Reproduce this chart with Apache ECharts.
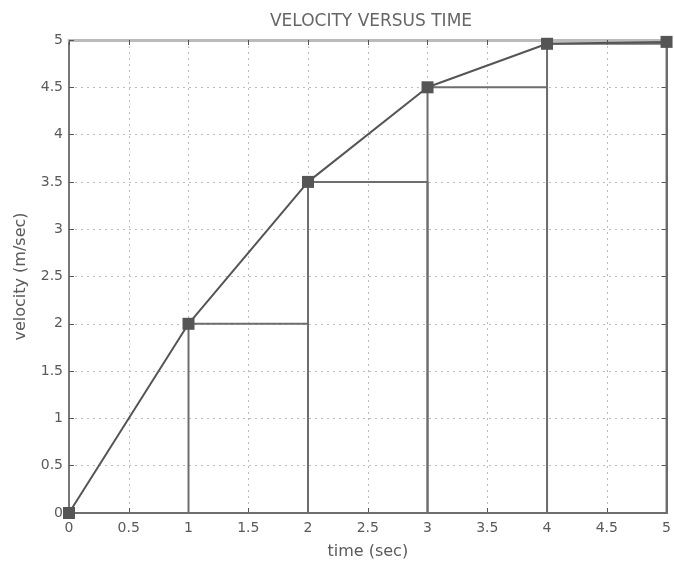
<!DOCTYPE html>
<html>
<head>
<meta charset="utf-8">
<script src="https://cdn.jsdelivr.net/npm/echarts@6/dist/echarts.min.js"></script>
<style>
  html, body { margin: 0; padding: 0; background: #fff; }
  #chart { width: 674px; height: 567px; }
</style>
</head>
<body>
<div id="chart"></div>
<script>
// sample times (sec) and velocities (m/sec)
const times = [0, 1, 2, 3, 4, 5];
const velocity = [0, 2, 3.5, 4.5, 4.96, 4.98];
// rectangle boxes: [start, end, height] (left-point steps)
const steps = [
  [0, 1, 0],
  [1, 2, 2],
  [2, 3, 3.5],
  [3, 4, 4.5],
  [4, 5, 4.96]
];

const chart = echarts.init(document.getElementById('chart'));

const textColor = '#5a5a5a';
const gridDots = { show: true, lineStyle: { color: '#bdbdbd', type: [2, 4], width: 1 } };

const option = {
  animation: false,
  backgroundColor: '#fff',
  textStyle: { fontFamily: 'DejaVu Sans, sans-serif' },
  title: {
    text: 'VELOCITY VERSUS TIME',
    left: 366,
    textAlign: 'center',
    top: 8,
    textStyle: { fontSize: 17, fontWeight: 'normal', color: '#666', fontFamily: 'DejaVu Sans' }
  },
  grid: { left: 69, right: 7, top: 40, bottom: 54 },
  xAxis: [
    {
      type: 'value', min: 0, max: 5, interval: 0.5,
      name: 'time (sec)', nameLocation: 'middle', nameGap: 31,
      nameTextStyle: { color: textColor, fontSize: 16 },
      axisLine: { onZero: false, lineStyle: { color: '#888', width: 2 } },
      axisTick: { inside: true, length: 5, lineStyle: { color: '#555' } },
      axisLabel: { color: textColor, fontSize: 14, margin: 8 },
      splitLine: gridDots
    },
    {
      type: 'value', min: 0, max: 5, interval: 0.5, position: 'top',
      axisLine: { show: true, onZero: false, lineStyle: { color: '#bbb', width: 3 } },
      axisTick: { inside: true, length: 5, lineStyle: { color: '#555' } },
      axisLabel: { show: false },
      splitLine: { show: false }
    }
  ],
  yAxis: [
    {
      type: 'value', min: 0, max: 5, interval: 0.5,
      name: 'velocity (m/sec)', nameLocation: 'middle', nameGap: 40,
      nameTextStyle: { color: textColor, fontSize: 16 },
      axisLine: { show: true, onZero: false, lineStyle: { color: '#777', width: 2 } },
      axisTick: { inside: true, length: 5, lineStyle: { color: '#555' } },
      axisLabel: { color: textColor, fontSize: 14, margin: 6 },
      splitLine: gridDots
    },
    {
      type: 'value', min: 0, max: 5, interval: 0.5, position: 'right',
      axisLine: { show: true, onZero: false, lineStyle: { color: '#666', width: 2 } },
      axisTick: { inside: true, length: 5, lineStyle: { color: '#555' } },
      axisLabel: { show: false },
      splitLine: { show: false }
    }
  ],
  series: [
    {
      type: 'custom',
      data: steps,
      encode: { x: [0, 1], y: 2 },
      z: 2,
      renderItem: function (params, api) {
        const p0 = api.coord([api.value(0), 0]);
        const p1 = api.coord([api.value(1), api.value(2)]);
        return {
          type: 'rect',
          shape: { x: p0[0], y: p1[1], width: p1[0] - p0[0], height: p0[1] - p1[1] },
          style: { fill: 'none', stroke: '#6e6e6e', lineWidth: 2 }
        };
      }
    },
    {
      type: 'line',
      data: times.map((t, i) => [t, velocity[i]]),
      z: 3,
      symbol: 'rect',
      symbolSize: 12,
      lineStyle: { color: '#555', width: 2 },
      itemStyle: { color: '#555' }
    }
  ]
};

chart.setOption(option);
</script>
</body>
</html>
